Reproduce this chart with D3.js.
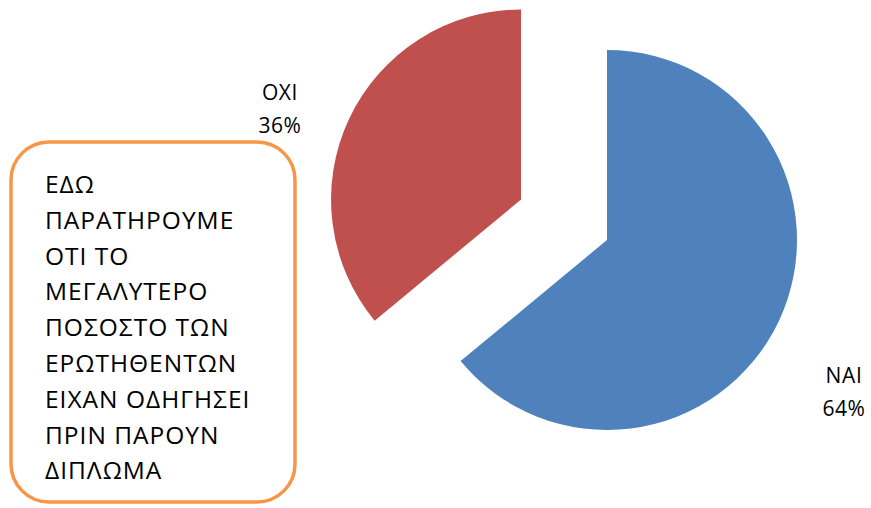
<!DOCTYPE html>
<html>
<head>
<meta charset="utf-8">
<script src="https://cdn.jsdelivr.net/npm/d3@7/dist/d3.min.js"></script>
<style>
  html, body { margin: 0; padding: 0; background: #fff; }
  svg { display: block; }
  text { font-family: "Open Sans", "Noto Sans", sans-serif; fill: #000; }
</style>
</head>
<body>
<svg id="chart" width="871" height="508"></svg>
<script>
// Survey answers and their shares (percent)
const categories = ["ΝΑΙ", "ΟΧΙ"];
const values = [64, 36];
const colors = ["#4F81BD", "#C0504D"];
const exploded = [false, true];

// Note shown in the rounded box
const noteLines = [
  "ΕΔΩ",
  "ΠΑΡΑΤΗΡΟΥΜΕ",
  "ΟΤΙ ΤΟ",
  "ΜΕΓΑΛΥΤΕΡΟ",
  "ΠΟΣΟΣΤΟ ΤΩΝ",
  "ΕΡΩΤΗΘΕΝΤΩΝ",
  "ΕΙΧΑΝ ΟΔΗΓΗΣΕΙ",
  "ΠΡΙΝ ΠΑΡΟΥΝ",
  "ΔΙΠΛΩΜΑ"
];

const svg = d3.select("#chart");
const cx = 607, cy = 240, radius = 190, explodeDist = 95;

const total = d3.sum(values);
const pie = d3.pie().sort(null).value(d => d.value);
const arcs = pie(categories.map((c, i) => ({ name: c, value: values[i], i })));
const arc = d3.arc().innerRadius(0).outerRadius(radius);

const g = svg.append("g").attr("transform", `translate(${cx},${cy})`);

g.selectAll("path")
  .data(arcs)
  .join("path")
  .attr("d", arc)
  .attr("fill", d => colors[d.data.i])
  .attr("transform", d => {
    if (!exploded[d.data.i]) return null;
    const mid = (d.startAngle + d.endAngle) / 2;
    return `translate(${Math.sin(mid) * explodeDist},${-Math.cos(mid) * explodeDist})`;
  });

// Category labels with percentages, placed outside the slices (relative to pie centre)
const labelPos = [[237, 143], [-327, -140]];
arcs.forEach((d, k) => {
  const [lx, ly] = labelPos[k];
  const t = g.append("text")
    .attr("text-anchor", "middle")
    .style("font-size", "21px")
    .style("letter-spacing", "0.6px");
  t.append("tspan").attr("x", lx).attr("y", ly).text(d.data.name);
  t.append("tspan").attr("x", lx).attr("y", ly + 33)
    .text(Math.round(d.data.value / total * 100) + "%");
});

// Rounded note box
svg.append("rect")
  .attr("x", 11).attr("y", 142)
  .attr("width", 284).attr("height", 360)
  .attr("rx", 38).attr("ry", 38)
  .attr("fill", "#fff")
  .attr("stroke", "#F79646")
  .attr("stroke-width", 3.5);

const note = svg.append("text")
  .style("font-size", "24.5px")
  .style("letter-spacing", "1px");
noteLines.forEach((line, i) => {
  note.append("tspan").attr("x", 45).attr("y", 193 + i * 35.8).text(line);
});
</script>
</body>
</html>
